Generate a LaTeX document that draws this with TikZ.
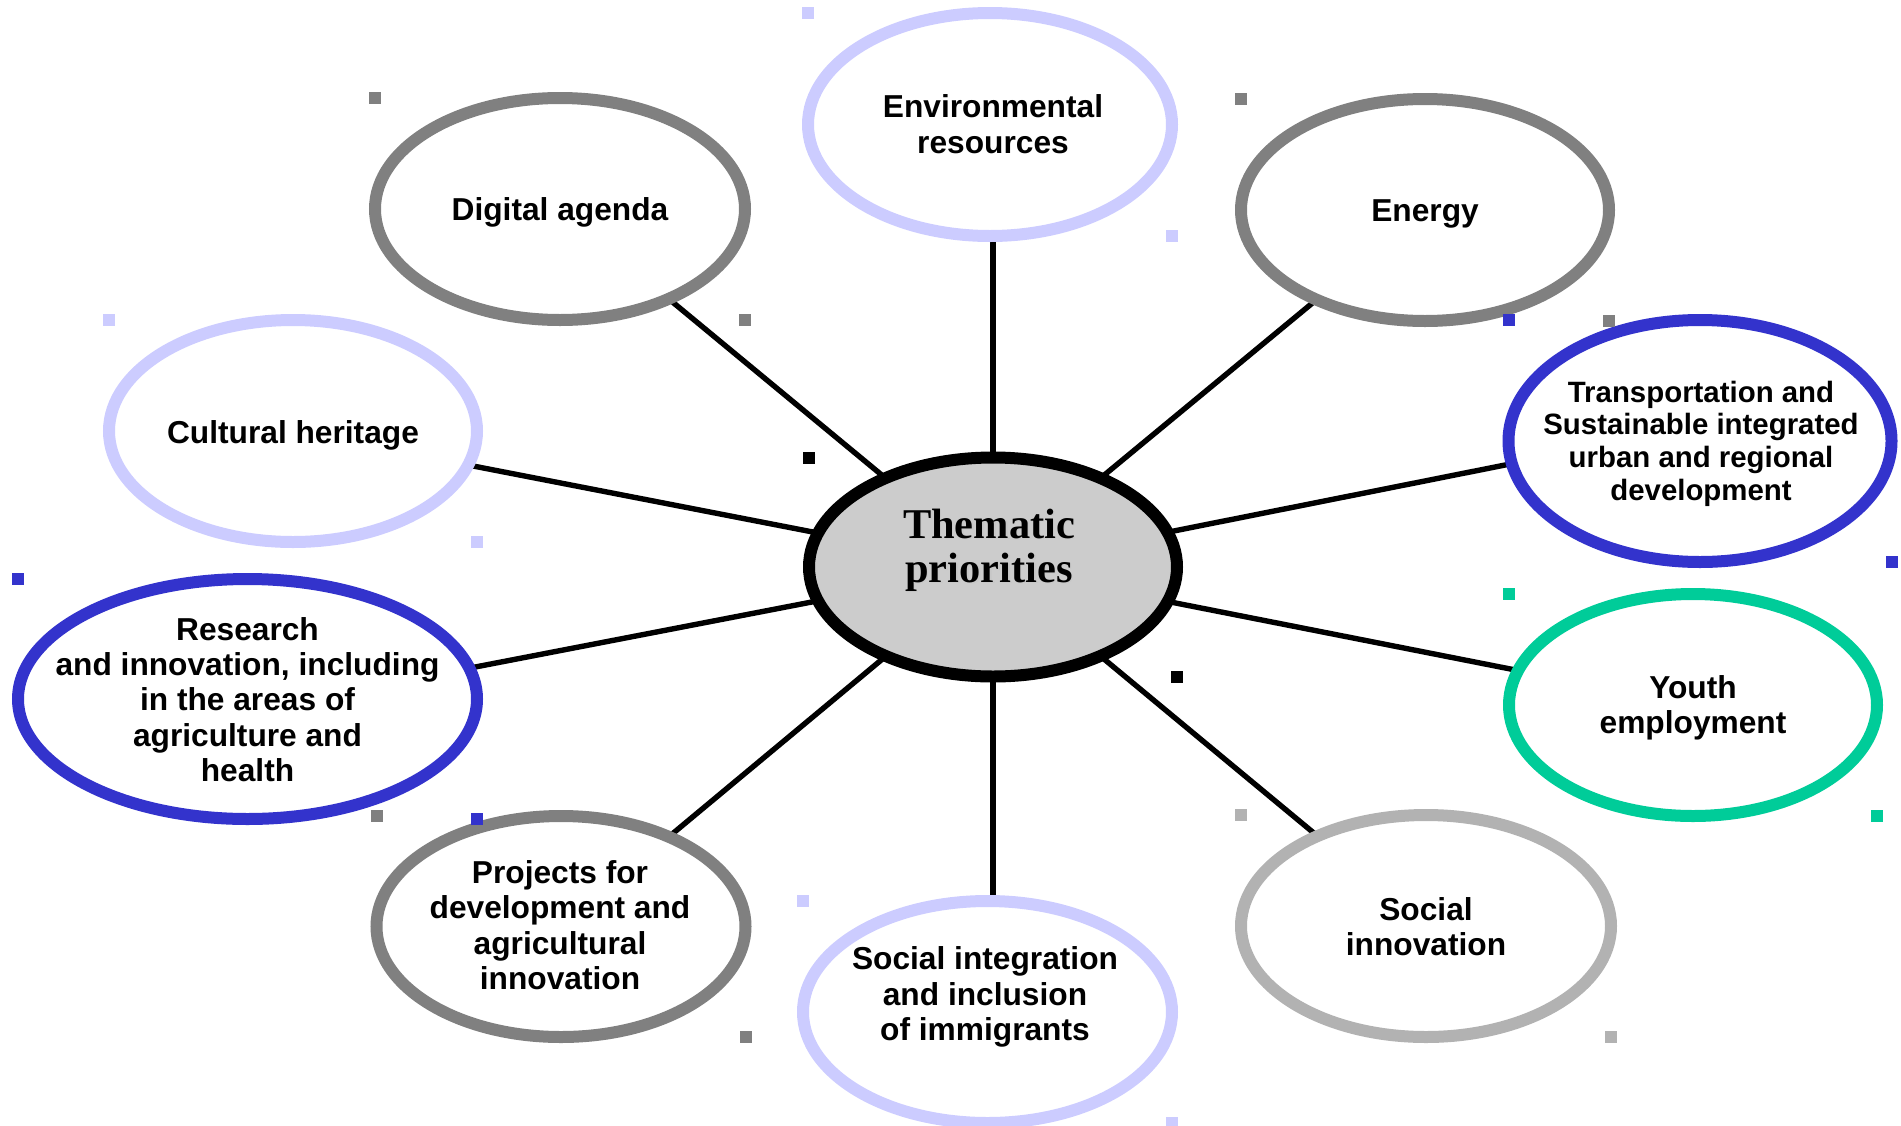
\documentclass[tikz,border=0pt]{standalone}
\usepackage{fontspec}
\setmainfont{Liberation Sans}
\newfontfamily\thserif{Liberation Serif}
\usetikzlibrary{shapes.geometric,backgrounds}
\definecolor{cgray}{HTML}{808080}
\definecolor{clav}{HTML}{CCCCFF}
\definecolor{cblue}{HTML}{3333CC}
\definecolor{cteal}{HTML}{00CC99}
\definecolor{clgray}{HTML}{B2B2B2}
\definecolor{cfill}{HTML}{CCCCCC}
\begin{document}
\begin{tikzpicture}[x=0.5pt,y=-0.5pt,
  oval/.style={ellipse, draw=#1, line width=6pt, fill=white, inner sep=0pt,
               minimum width=184pt, minimum height=111pt},
  lbl/.style={font=\fontsize{15.85}{17.7}\selectfont\bfseries, align=center, inner sep=0pt},
  tlbl/.style={font=\fontsize{14.7}{16.35}\selectfont\bfseries, align=center, inner sep=0pt},
  clbl/.style={font=\thserif\bfseries\fontsize{21.2}{22}\selectfont, align=center, inner sep=0pt},
  conn/.style={line width=2.7pt, draw=black}]
\useasboundingbox (0,0) rectangle (1901,1125);

% ellipses
\node[oval=black, fill=cfill, minimum height=109.5pt] (c) at (993,567) {};
\node[oval=clav, minimum width=182pt, minimum height=111.5pt] (env) at (990,124.5) {};
\node[oval=cgray, minimum width=185pt] (dig) at (560,209) {};
\node[oval=cgray] (energy) at (1425,210) {};
\node[oval=clav] (cult) at (293,431) {};
\node[oval=cblue, minimum width=191.5pt, minimum height=121pt] (trans) at (1700,441) {};
\node[oval=cblue, minimum width=229.5pt, minimum height=120pt] (res) at (247.5,699) {};
\node[oval=cteal] (youth) at (1693,705) {};
\node[oval=cgray, minimum width=184.5pt, minimum height=110.5pt] (proj) at (561,926.5) {};
\node[oval=clav, minimum width=184.5pt] (socint) at (987.5,1012) {};
\node[oval=clgray, minimum width=185pt] (socinn) at (1426,926) {};

% connectors
\begin{scope}[on background layer]
\draw[conn] (c.center) -- (c.center |- env.center);
\draw[conn] (c.center) -- (c.center |- socint.center);
\draw[conn] (c.center) -- (dig.center);
\draw[conn] (c.center) -- (energy.center);
\draw[conn] (c.center) -- (proj.center);
\draw[conn] (c.center) -- (socinn.center);
\draw[conn] (c.center) -- (cult.center);
\draw[conn] (c.center) -- (youth.center);
\draw[conn, shorten >=-8pt] (c.center) -- (res.8);
\draw[conn, shorten >=-8pt] (c.center) -- (trans.187);
\end{scope}

% selection handles
\foreach \n/\col in {c/black, env/clav, dig/cgray, energy/cgray, cult/clav,
                     trans/cblue, res/cblue, youth/cteal, proj/cgray,
                     socint/clav, socinn/clgray}{
  \fill[\col] (\n.west |- \n.north) rectangle ++(12,12);
  \fill[\col] (\n.east |- \n.south) rectangle ++(-12,-12);
}

% labels
\node[clbl, text=black!22] (ctext-sh) at (990.5,551.5) {Thematic\\priorities};
\node[clbl] (ctext) at (989,550) {Thematic\\priorities};
\node[lbl] (t-env) at (993,124) {Environmental\\resources};
\node[lbl] (t-dig) at (560,212) {Digital agenda};
\node[lbl] (t-energy) at (1425,214) {Energy};
\node[lbl] (t-cult) at (293,435) {Cultural heritage};
\node[tlbl] (t-trans) at (1701,443.6) {Transportation and\\Sustainable integrated\\urban and regional\\development};
\node[lbl] (t-res) at (247.5,699.5) {Research\\and innovation, including\\in the areas of\\agriculture and\\health};
\node[lbl] (t-youth) at (1693,708) {Youth\\employment};
\node[lbl] (t-proj) at (560,925) {Projects for\\development and\\agricultural\\innovation};
\node[lbl] (t-socint) at (985,997) {Social integration\\and inclusion\\of immigrants};
\node[lbl] (t-socinn) at (1426,926.5) {Social\\innovation};
\end{tikzpicture}
\end{document}
